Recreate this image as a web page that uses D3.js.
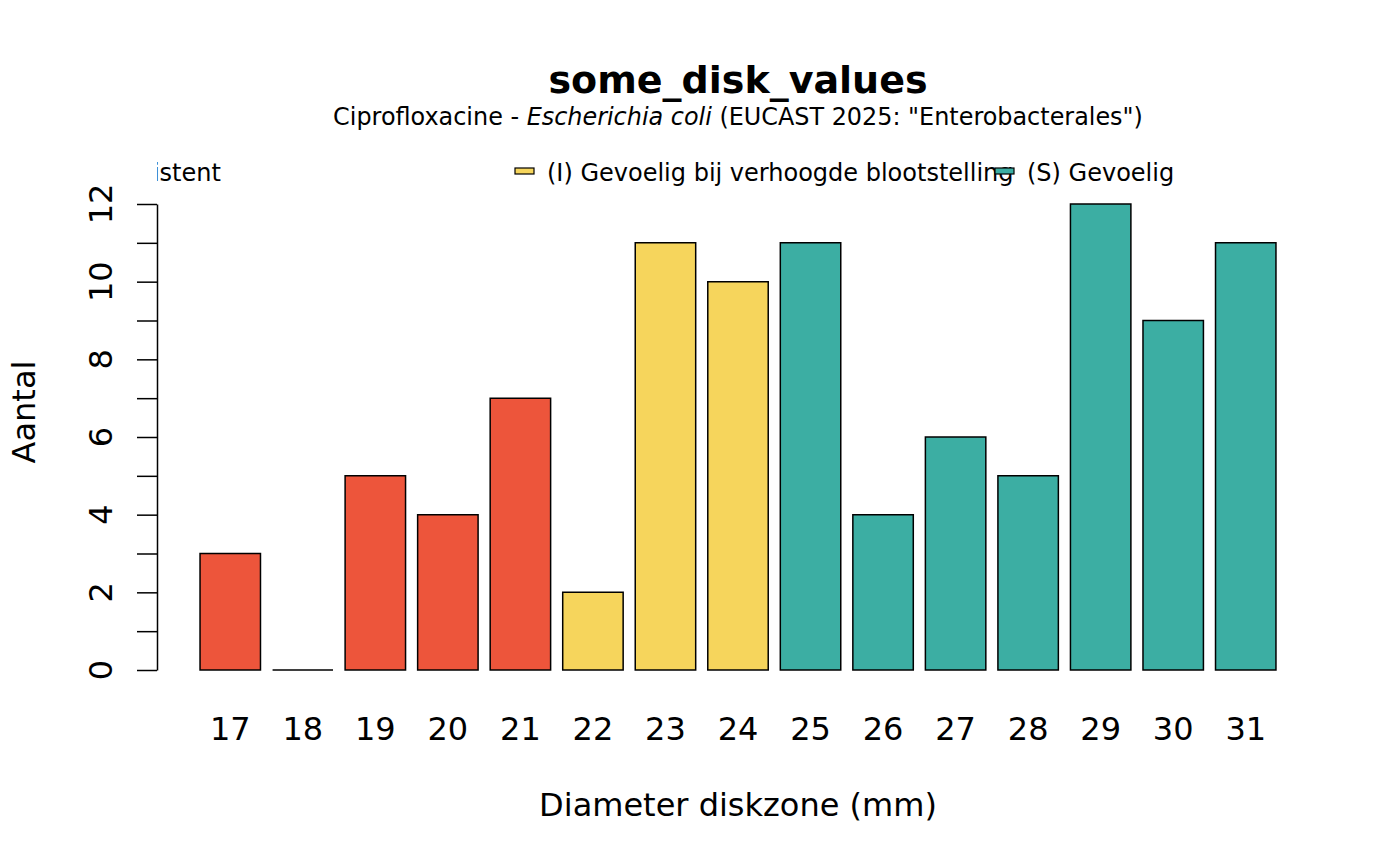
<!DOCTYPE html>
<html><head><meta charset="utf-8">
<script src="https://cdn.jsdelivr.net/npm/d3@7"></script>
<style>body{margin:0;background:#fff}svg{display:block}text{font-family:"DejaVu Sans",sans-serif;fill:#000}</style>
</head><body><svg id="c" width="1400" height="866"></svg>
<script>
const diameters = [17,18,19,20,21,22,23,24,25,26,27,28,29,30,31];
const counts = [3,0,5,4,7,2,11,10,11,4,6,5,12,9,11];
const interp = ["R","R","R","R","R","I","I","I","S","S","S","S","S","S","S"];
const legendKeys = ["R","I","S"];
const legendLabels = ["(R) Resistent","(I) Gevoelig bij verhoogde blootstelling","(S) Gevoelig"];
const colors = {R:"#ED553B", I:"#F6D55C", S:"#3CAEA3"};
const yTicks = [0,1,2,3,4,5,6,7,8,9,10,11,12];

const svg = d3.select("#c");
const x = d3.scaleLinear().domain([-0.512, 18.712]).range([157, 1319]);
const y = d3.scaleLinear().domain([0, 12]).range([670, 204]);
const barL = i => 0.2 + i*1.2;

svg.append("defs").append("clipPath").attr("id","plotclip")
  .append("rect").attr("x",157).attr("y",130).attr("width",1319-157).attr("height",570);

// title
svg.append("text").attr("x",738).attr("y",93).attr("text-anchor","middle")
  .style("font-size","38px").style("font-weight","bold").text("some_disk_values");
const sub = svg.append("text").attr("x",738).attr("y",125).attr("text-anchor","middle").style("font-size","23.9px");
sub.append("tspan").text("Ciprofloxacine - ");
sub.append("tspan").style("font-style","italic").text("Escherichia coli");
sub.append("tspan").text(" (EUCAST 2025: \"Enterobacterales\")");

// bars (paths so zero-height bars still show their outline)
svg.append("g").selectAll("path").data(counts).join("path")
  .attr("d",(d,i)=>{const x0=x(barL(i)), x1=x(barL(i)+1), y0=y(0), y1=y(d);
     return `M${x0},${y0}L${x0},${y1}L${x1},${y1}L${x1},${y0}Z`;})
  .attr("fill",(d,i)=>colors[interp[i]]).attr("stroke","#000").attr("stroke-width",1.5);

// y axis
const ya = svg.append("g").attr("transform","translate(157,0)")
  .call(d3.axisLeft(y).tickValues(yTicks).tickSize(20).tickSizeOuter(0).tickFormat(""));
ya.selectAll("path,line").attr("stroke","#000").attr("stroke-width",1.5);
svg.append("g").selectAll("text").data(yTicks.filter(t=>t%2===0)).join("text")
  .attr("transform",d=>`translate(112,${y(d)}) rotate(-90)`).attr("text-anchor","middle")
  .style("font-size","32px").text(d=>d);

// x labels
svg.append("g").selectAll("text").data(diameters).join("text")
  .attr("x",(d,i)=>x(barL(i)+0.5)).attr("y",740).attr("text-anchor","middle")
  .style("font-size","32px").text(d=>d);

// axis titles
svg.append("text").attr("x",738).attr("y",816).attr("text-anchor","middle").style("font-size","32px").text("Diameter diskzone (mm)");
svg.append("text").attr("transform","translate(35,412) rotate(-90)").attr("text-anchor","middle").style("font-size","32px").text("Aantal");

// legend
const lg = svg.append("g").attr("clip-path","url(#plotclip)");
legendKeys.forEach((k,i)=>{
  const bx = 35 + i*480;
  lg.append("rect").attr("x",bx).attr("y",168).attr("width",19).attr("height",6)
    .attr("fill",colors[k]).attr("stroke","#000").attr("stroke-width",1.2);
  lg.append("text").attr("x",bx+32).attr("y",181).style("font-size","24px").text(legendLabels[i]);
});
</script></body></html>
